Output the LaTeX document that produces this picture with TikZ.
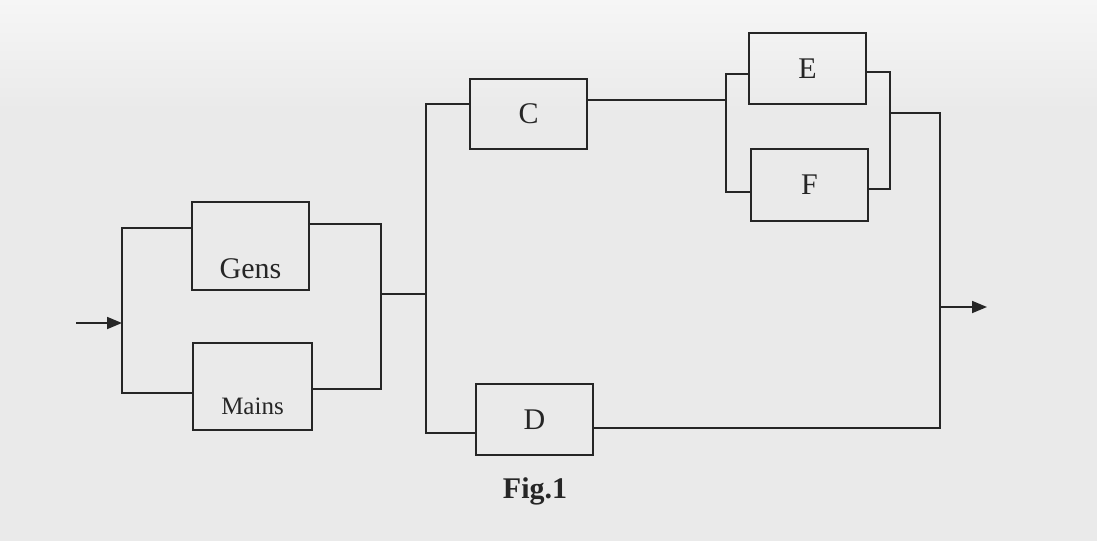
\documentclass[tikz,border=0pt]{standalone}
\usepackage{fontspec}
\setmainfont{Liberation Serif}
\usetikzlibrary{arrows.meta}
\definecolor{ink}{RGB}{38,38,38}
\definecolor{paper}{RGB}{234,234,234}
\definecolor{paperlight}{RGB}{246,246,246}
\tikzset{
  blk/.style={draw=ink, line width=1.8pt, rectangle, inner sep=0pt, text=ink,
              font=\fontsize{30}{34}\selectfont},
  wire/.style={draw=ink, line width=1.8pt, line cap=rect},
  flow/.style={draw=ink, line width=1.8pt, -{Triangle[length=15pt,width=12pt]}},
}
\begin{document}
\begin{tikzpicture}[x=1pt,y=-1pt]
% background (scanned page)
\fill[paper] (0,0) rectangle (1097,541);
\shade[top color=paperlight, bottom color=paper] (0,0) rectangle (1097,110);
\useasboundingbox (0,0) rectangle (1097,541);

% blocks
\node[blk, minimum width=117pt, minimum height=88pt, text height=64pt, text depth=0pt] (gens) at (250.5,246) {Gens};
\node[blk, minimum width=119pt, minimum height=87pt, text height=55pt, text depth=0pt,
      font=\fontsize{25}{29}\selectfont] (mains) at (252.5,386.5) {Mains};
\node[blk, minimum width=117pt, minimum height=70pt] (c) at (528.5,114) {C};
\node[blk, minimum width=117pt, minimum height=71pt] (d) at (534.5,419.5) {D};
\node[blk, minimum width=117pt, minimum height=71pt] (e) at (807.5,68.5) {E};
\node[blk, minimum width=117pt, minimum height=72pt] (f) at (809.5,185) {F};

% bus coordinates
\coordinate (in)  at (76,323);
\coordinate (lm)  at (122,323);
\coordinate (lt)  at (122,228);
\coordinate (lb)  at (122,393);
\coordinate (rt)  at (381,224);
\coordinate (rb)  at (381,389);
\coordinate (rm)  at (381,294);
\coordinate (bm)  at (426,294);
\coordinate (bt)  at (426,104);
\coordinate (bb)  at (426,433);
\coordinate (cm)  at (726,100);
\coordinate (elt) at (726,74);
\coordinate (elb) at (726,192);
\coordinate (ert) at (890,72);
\coordinate (erb) at (890,189);
\coordinate (erm) at (890,113);
\coordinate (ot)  at (940,113);
\coordinate (ob)  at (940,428);
\coordinate (om)  at (940,307);
\coordinate (out) at (987,307);

% input
\draw[flow] (in) -- (lm);
% Gens / Mains parallel
\draw[wire] (gens.west |- lt) -- (lt) -- (lb) -- (mains.west |- lb);
\draw[wire] (gens.east |- rt) -- (rt) -- (rb) -- (mains.east |- rb);
\draw[wire] (rm) -- (bm);
% big parallel bus
\draw[wire] (c.west |- bt) -- (bt) -- (bb) -- (d.west |- bb);
% C to E/F
\draw[wire] (c.east |- cm) -- (cm);
\draw[wire] (e.west |- elt) -- (elt) -- (elb) -- (f.west |- elb);
\draw[wire] (e.east |- ert) -- (ert) -- (erb) -- (f.east |- erb);
% output bus
\draw[wire] (erm) -- (ot) -- (ob) -- (d.east |- ob);
\draw[flow] (om) -- (out);

% caption
\node[text=ink, font=\bfseries\fontsize{30}{34}\selectfont] (cap) at (535,491) {Fig.1};
\end{tikzpicture}
\end{document}
